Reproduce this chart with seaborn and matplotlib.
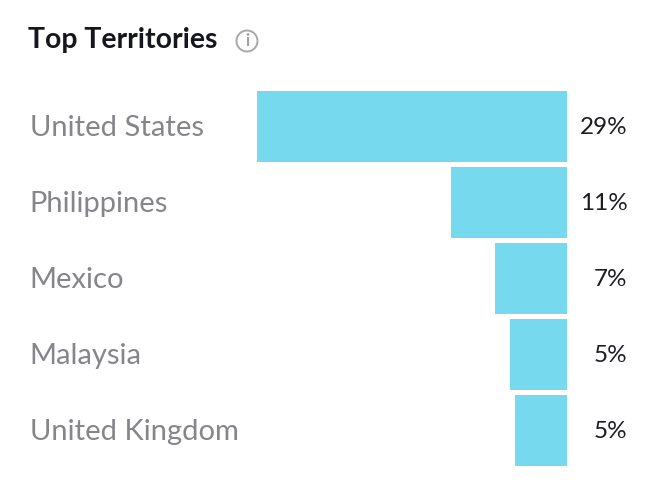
import matplotlib
matplotlib.use("Agg")
import matplotlib.pyplot as plt
from matplotlib.patches import Circle
import pandas as pd
import seaborn as sns

# data
territories = ["United States", "Philippines", "Mexico", "Malaysia", "United Kingdom"]
bar_values = [29.0, 10.85, 6.73, 5.33, 4.91]
pct_labels = ["29%", "11%", "7%", "5%", "5%"]
title = "Top Territories"

sns.set_theme(style="white")
plt.rcParams["font.family"] = ["Lato", "DejaVu Sans"]

W, H = 657, 500
df = pd.DataFrame({"territory": territories, "share": bar_values})

fig = plt.figure(figsize=(W / 100, H / 100), dpi=100, facecolor="white")

# axes placed so the bars land where they are in the reference
ax = fig.add_axes([257 / W, 1 - 468.5 / H, 310 / W, 380 / H])
sns.barplot(data=df, x="share", y="territory", color="#77d9ee", saturation=1,
            width=0.93, ax=ax, edgecolor="none")
ax.set_xlim(29, 0)
ax.set_ylim(4.5, -0.5)
ax.set_xlabel("")
ax.set_ylabel("")
ax.set_xticks([])
ax.set_yticks([])
sns.despine(ax=ax, left=True, bottom=True, top=True, right=True)
ax.patch.set_alpha(0)

# overlay in pixel coordinates for the text
ov = fig.add_axes([0, 0, 1, 1])
ov.set_xlim(0, W)
ov.set_ylim(H, 0)
ov.axis("off")
ov.patch.set_alpha(0)

ov.text(28, 40, title, fontsize=20.4, fontweight="bold", color="#16161f",
        ha="left", va="center")

# info icon
ov.add_patch(Circle((247, 41), 10.5, fill=False, ec="#a8a8a8", lw=1.4))
ov.text(247, 41.5, "i", fontsize=12, fontweight="bold", color="#a0a0a0",
        ha="center", va="center")

for i, (name, pct) in enumerate(zip(territories, pct_labels)):
    y = 128 + 76 * i
    ov.text(29.5, y, name, fontsize=21, color="#85858a", ha="left", va="center")
    ov.text(627.5, y - 0.5, pct, fontsize=17.5, color="#1c1c22", ha="right", va="center")

fig.savefig("out.png", dpi=100)
